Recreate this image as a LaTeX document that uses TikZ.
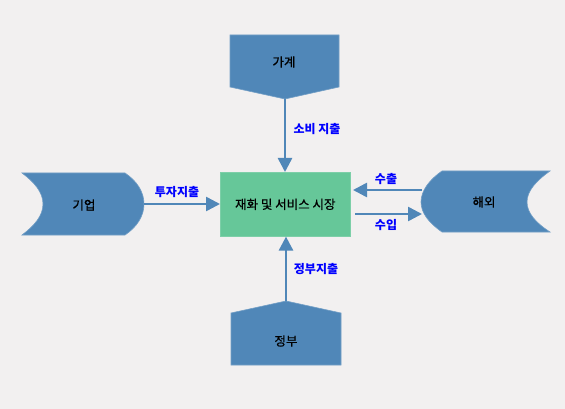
\documentclass[tikz,border=0pt]{standalone}
\usepackage{fontspec}
\setmainfont{Noto Sans CJK KR}
\newfontfamily\ttlfont[FakeBold=0.8]{Noto Sans CJK KR}
\usetikzlibrary{arrows.meta}
\definecolor{bgc}{HTML}{F2F0F0}
\definecolor{shapec}{HTML}{5087B8}
\definecolor{greenc}{HTML}{66C799}
\definecolor{labc}{HTML}{0000FF}
\tikzset{
  blob/.style={fill=shapec, draw=shapec!80!white, line width=0.6},
  flow/.style={draw=shapec, line width=2.6, -{Triangle[length=14pt,width=14pt]}},
  lab/.style={text=labc, font=\fontsize{12}{14}\selectfont\bfseries, inner sep=0pt},
  ttl/.style={text=black, font=\ttlfont\fontsize{12.5}{14}\selectfont, inner sep=0pt}
}
\begin{document}
\begin{tikzpicture}[x=1pt,y=-1pt]
\fill[bgc] (0,0) rectangle (565,409);
\useasboundingbox (0,0) rectangle (565,409);
% top: household
\path[blob] (230,35) -- (339,35) -- (339,87) -- (285,99) -- (230,87) -- cycle;
\coordinate (hhTip) at (285,99);
\node[ttl] (hh) at (284,62) {가계};
% bottom: government
\path[blob] (231,365) -- (341,365) -- (341,313) -- (286,301) -- (231,313) -- cycle;
\coordinate (govTip) at (286,301);
\node[ttl] (gov) at (286,341) {정부};
% left: firms
\path[blob] (22,173) -- (125,173) .. controls (137,181) and (144,192) .. (144,204)
  .. controls (144,216) and (137,227) .. (125,235) -- (22,235)
  .. controls (34,226) and (43,216) .. (43,204)
  .. controls (43,192) and (34,182) .. (22,173) -- cycle;
\coordinate (firmR) at (144,204);
\node[ttl] (firm) at (84,205) {기업};
% right: foreign
\path[blob] (442,171) -- (550,171) .. controls (536,181) and (527,191) .. (527,202)
  .. controls (527,213) and (536,223) .. (550,232) -- (442,232)
  .. controls (429,223) and (421,213) .. (421,202)
  .. controls (421,191) and (429,180) .. (442,171) -- cycle;
\coordinate (forA) at (422,190);
\coordinate (forB) at (422,214);
\node[ttl] (foreign) at (484,202) {해외};
% centre
\node[fill=greenc, draw=greenc!85!white, line width=0.6, minimum width=130, minimum height=64, inner sep=0, anchor=north west, text=black, font=\ttlfont\fontsize{12.5}{14}\selectfont] (mkt) at (220,172) {재화 및 서비스 시장};
% flows
\coordinate (expE) at (353,190);
\coordinate (impS) at (355,214);
\draw[flow] (hhTip) -- (hhTip |- mkt.north);
\draw[flow] (govTip) -- (govTip |- mkt.south);
\draw[flow] (firmR) -- (firmR -| mkt.west);
\draw[flow] (forA) -- (expE);
\draw[flow] (impS) -- (forB);
% labels
\node[lab] (l1) at (317,129) {소비 지출};
\node[lab] (l2) at (177,192) {투자지출};
\node[lab] (l3) at (386,179) {수출};
\node[lab] (l4) at (386,225) {수입};
\node[lab] (l5) at (316,269) {정부지출};
\end{tikzpicture}
\end{document}
